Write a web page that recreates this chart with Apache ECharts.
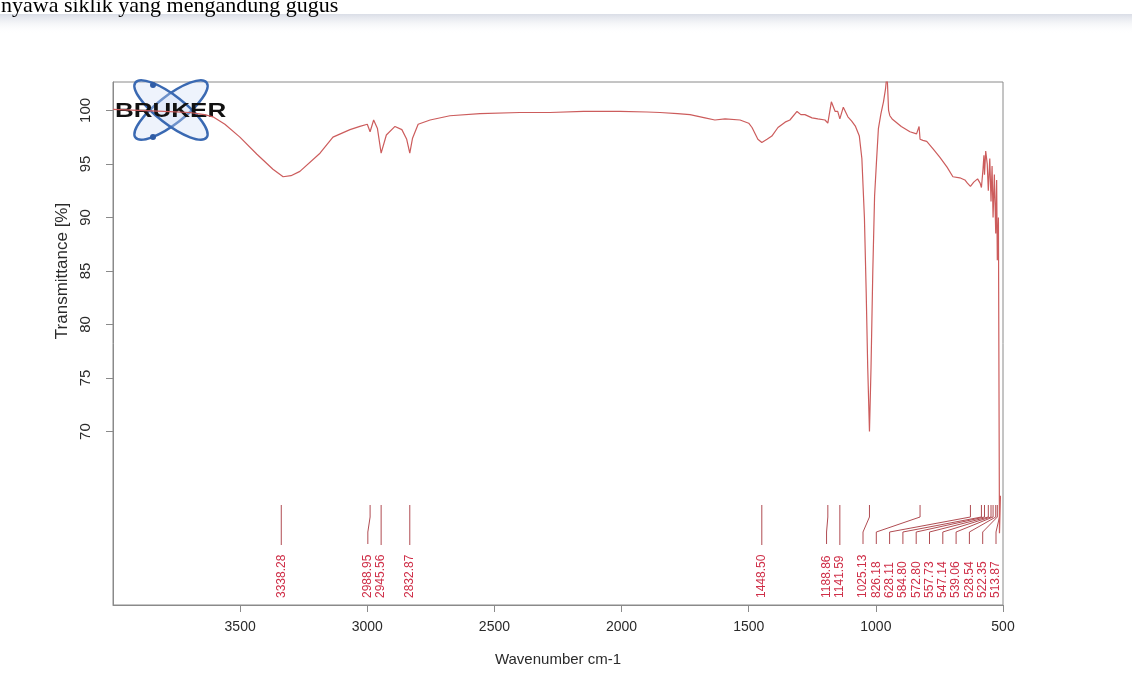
<!DOCTYPE html>
<html><head><meta charset="utf-8">
<script src="https://cdn.jsdelivr.net/npm/echarts@6/dist/echarts.min.js"></script>
<style>html,body{margin:0;padding:0;background:#fff;overflow:hidden}#c{width:1132px;height:683px}</style>
</head><body><div id="c"></div>
<script>
// ---- data ----
const wavenumbers = [4000,3900,3800,3700,3640,3607,3560,3501,3434,3371,3331,3300,3265,3186,3135,3068,3029,3000,2988.95,2975,2960,2945.56,2925,2891,2864,2845,2832.87,2822,2800,2753,2675,2557,2400,2282,2150,2006,1900,1849,1780,1731,1672,1633,1593,1534,1500,1487,1464,1448.5,1428,1409,1385,1357,1338,1310,1295,1279,1251,1228,1200,1188.86,1175,1160,1150,1141.59,1128,1110,1095,1080,1065,1055,1045,1038,1032,1025.13,1019,1012,1005,998,990,980,970,962,956,950,945,936,900,866,840,830,826.18,815,800,775,748,720,697,670,650,640,628.11,615,600,590,584.80,579,575,572.80,568,562,557.73,552,547.14,543,539.06,534,528.54,525,522.35,518,513.87,510];
const transmittance = [100.1,100.0,99.9,99.8,99.6,99.4,98.7,97.5,95.9,94.5,93.8,93.9,94.3,96.0,97.5,98.2,98.5,98.7,98.0,99.1,98.3,96.0,97.7,98.5,98.2,97.3,96.0,97.4,98.7,99.1,99.5,99.7,99.8,99.8,99.9,99.9,99.85,99.8,99.7,99.6,99.3,99.1,99.2,99.1,98.8,98.4,97.3,97.0,97.3,97.6,98.4,98.9,99.1,99.9,99.6,99.6,99.3,99.2,99.1,98.8,100.8,99.9,99.9,99.2,100.3,99.4,99.0,98.5,97.6,95.5,90.0,83.0,76.0,70.0,76.0,85.0,92.0,95.0,98.3,99.7,100.8,102.0,103.5,100.0,99.5,99.2,98.5,98.0,97.8,98.5,97.3,97.2,97.1,96.4,95.6,94.7,93.8,93.7,93.5,93.2,92.9,93.3,93.6,93.2,92.8,94.4,95.8,94.0,96.2,95.0,92.5,95.5,91.5,94.8,90.0,94.0,88.5,93.5,86.0,90.0,60.5,64.0];
const peakWavenumbers = [3338.28,2988.95,2945.56,2832.87,1448.50,1188.86,1141.59,1025.13,826.18,628.11,584.80,572.80,557.73,547.14,539.06,528.54,522.35,513.87];
const xTicks = [3500,3000,2500,2000,1500,1000,500];
const yTicks = [70,75,80,85,90,95,100];
const xName = 'Wavenumber cm-1';
const yName = 'Transmittance [%]';
const pageText = 'nyawa siklik yang mengandung gugus';

// ---- chart ----
const chart = echarts.init(document.getElementById('c'), null, {renderer: 'canvas'});
const axisColor = '#8a8a8a';
const GRID = {left: 113, right: 129, top: 82, bottom: 78};
chart.setOption({
  animation: false,
  backgroundColor: '#ffffff',
  grid: {left: GRID.left, right: GRID.right, top: GRID.top, bottom: GRID.bottom, show: true, borderColor: axisColor, borderWidth: 1, containLabel: false},
  xAxis: {
    type: 'value', inverse: true, min: 500, max: 4000,
    axisLine: {show: true, lineStyle: {color: axisColor}},
    axisTick: {show: true, length: 7, customValues: xTicks, lineStyle: {color: axisColor}},
    axisLabel: {customValues: xTicks, margin: 15, color: '#2a2a2a', fontSize: 14, fontFamily: 'Arial, Liberation Sans', formatter: v => String(v)},
    splitLine: {show: false},
    name: xName, nameLocation: 'middle', nameGap: 47,
    nameTextStyle: {fontSize: 15, color: '#2a2a2a', fontFamily: 'Arial, Liberation Sans'}
  },
  yAxis: {
    type: 'value', min: 53.8, max: 102.65,
    axisLine: {show: true, lineStyle: {color: axisColor}},
    axisTick: {show: true, length: 7, customValues: yTicks, lineStyle: {color: axisColor}},
    axisLabel: {customValues: yTicks, rotate: 90, margin: 20, color: '#2a2a2a', fontSize: 15, fontFamily: 'Arial, Liberation Sans', formatter: v => String(v)},
    splitLine: {show: false}
  },
  series: [{
    type: 'line',
    data: wavenumbers.map((w, i) => [w, transmittance[i]]),
    showSymbol: false, symbol: 'none', clip: true,
    lineStyle: {color: '#cc5c5c', width: 1.2}
  }]
});

// ---- peak labels via axis scales ----
const bottomY = chart.getHeight() - GRID.bottom;
const pk = peakWavenumbers.map(w => ({w, x: chart.convertToPixel({gridIndex: 0}, [w, 60])[0]}));
pk.sort((a, b) => a.x - b.x);
const gap = 13.3;
const rightLimit = chart.getWidth() - GRID.right - 7;
for (let i = pk.length - 1; i >= 0; i--) {
  const lim = i === pk.length - 1 ? rightLimit : pk[i + 1].lx - gap;
  pk[i].lx = Math.min(pk[i].x, lim);
}
const graphics = [];
const topY = bottomY - 100, stubY = bottomY - 88, diagY = bottomY - 73, endY = bottomY - 61;
pk.forEach(p => {
  const pts = Math.abs(p.lx - p.x) < 0.5
    ? [[p.x, topY], [p.x, endY + 1]]
    : [[p.x, topY], [p.x, stubY], [p.lx, diagY], [p.lx, endY]];
  graphics.push({type: 'polyline', shape: {points: pts}, style: {stroke: '#b04c52', lineWidth: 1, fill: null}, silent: true});
  graphics.push({type: 'text', x: p.lx, y: bottomY - 7, rotation: Math.PI / 2,
    style: {text: p.w.toFixed(2), fill: '#cf2f48', font: '12px Arial, Liberation Sans', align: 'left', verticalAlign: 'middle'}, silent: true});
});
// y axis name centred on labelled range
const yMid = chart.convertToPixel({gridIndex: 0}, [4000, (yTicks[0] + yTicks[yTicks.length - 1]) / 2])[1];
graphics.push({type: 'text', x: 62, y: yMid, rotation: Math.PI / 2,
  style: {text: yName, fill: '#2a2a2a', font: '17px Arial, Liberation Sans', align: 'center', verticalAlign: 'middle'}});

// page top text and scan shadow
graphics.push({type: 'rect', shape: {x: 0, y: 14, width: 1132, height: 20}, silent: true,
  style: {fill: new echarts.graphic.LinearGradient(0, 0, 0, 1, [{offset: 0, color: 'rgba(205,210,222,0.75)'}, {offset: 1, color: 'rgba(255,255,255,0)'}])}});
graphics.push({type: 'text', x: 1, y: -5, style: {text: pageText, fill: '#000', font: '22px "Liberation Serif", "DejaVu Serif", serif', align: 'left', verticalAlign: 'top'}});

// Bruker logo
const lc = [171, 110];
graphics.push({type: 'group', x: lc[0], y: lc[1], children: [
  {type: 'ellipse', rotation: 0.66, shape: {cx: 0, cy: 0, rx: 45, ry: 14}, style: {stroke: '#3a69b2', lineWidth: 2.5, fill: 'rgba(205,222,245,0.35)'}},
  {type: 'ellipse', rotation: -0.66, shape: {cx: 0, cy: 0, rx: 45, ry: 14}, style: {stroke: '#3a69b2', lineWidth: 2.5, fill: 'rgba(205,222,245,0.35)'}},
  {type: 'circle', shape: {cx: -18, cy: -25, r: 3}, style: {fill: '#2f5ca6'}},
  {type: 'circle', shape: {cx: -18, cy: 27, r: 3}, style: {fill: '#2f5ca6'}},
  {type: 'text', x: -56, y: 1, scaleX: 1.3, style: {text: 'BRUKER', fill: '#111', font: 'bold 20px Arial, Liberation Sans', align: 'left', verticalAlign: 'middle'}}
]});

chart.setOption({graphic: graphics});
</script></body></html>
